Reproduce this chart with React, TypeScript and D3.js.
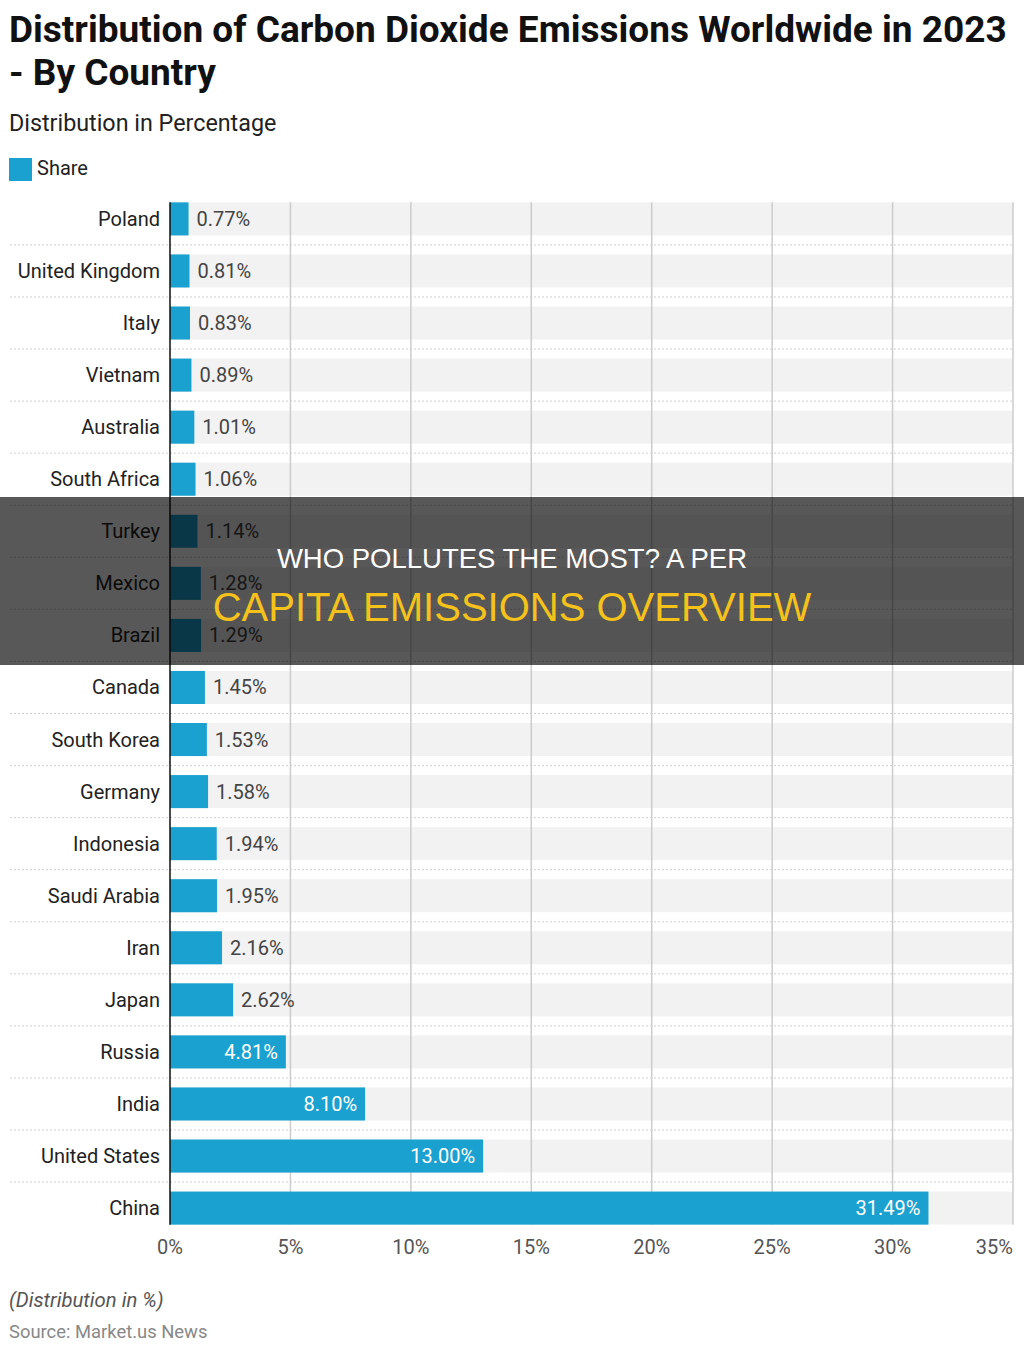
import React, { useEffect, useRef } from 'react';
import * as d3 from 'd3';

const countries = ['Poland', 'United Kingdom', 'Italy', 'Vietnam', 'Australia', 'South Africa', 'Turkey', 'Mexico', 'Brazil', 'Canada', 'South Korea', 'Germany', 'Indonesia', 'Saudi Arabia', 'Iran', 'Japan', 'Russia', 'India', 'United States', 'China'];
const shares = [0.77, 0.81, 0.83, 0.89, 1.01, 1.06, 1.14, 1.28, 1.29, 1.45, 1.53, 1.58, 1.94, 1.95, 2.16, 2.62, 4.81, 8.1, 13.0, 31.49];
const ticks = [0, 5, 10, 15, 20, 25, 30, 35];

const W = 1024;
const H = 1353;
const BLUE = '#1ba1cf';

const App = () => {
  const ref = useRef<SVGSVGElement>(null);

  useEffect(() => {
    document.body.style.margin = '0';
    const svg = d3.select(ref.current);
    svg.selectAll('*').remove();
    const font = 'Roboto, "Noto Sans", sans-serif';

    const x = d3.scaleLinear().domain([0, 35]).range([170, 1013]);
    const y = d3.scaleBand().domain(countries).range([193, 1234]).paddingInner(0.365).paddingOuter(0.18);

    // titles
    svg.append('text').attr('x', 9).attr('y', 42).attr('font-size', 37).attr('font-weight', 700).attr('fill', '#111')
      .attr('font-family', font).text('Distribution of Carbon Dioxide Emissions Worldwide in 2023');
    svg.append('text').attr('x', 9).attr('y', 85).attr('font-size', 37).attr('font-weight', 700).attr('fill', '#111')
      .attr('font-family', font).text('- By Country');
    svg.append('text').attr('x', 9).attr('y', 131).attr('font-size', 23.3).attr('fill', '#222')
      .attr('font-family', font).text('Distribution in Percentage');

    // legend
    svg.append('rect').attr('x', 9).attr('y', 158).attr('width', 23).attr('height', 23).attr('fill', BLUE);
    svg.append('text').attr('x', 37).attr('y', 175).attr('font-size', 20).attr('fill', '#222')
      .attr('font-family', font).text('Share');

    const g = svg.append('g');

    // background tracks
    g.selectAll('rect.track').data(countries).join('rect').attr('class', 'track')
      .attr('x', x(0)).attr('y', d => y(d)!).attr('width', x(35) - x(0)).attr('height', y.bandwidth())
      .attr('fill', '#f2f2f2');

    // dotted separators
    const step = y.step();
    g.selectAll('line.sep').data(countries.slice(0, -1)).join('line').attr('class', 'sep')
      .attr('x1', 10).attr('x2', x(35))
      .attr('y1', d => y(d)! + y.bandwidth() + (step - y.bandwidth()) / 2)
      .attr('y2', d => y(d)! + y.bandwidth() + (step - y.bandwidth()) / 2)
      .attr('stroke', '#cfcfcf').attr('stroke-width', 1).attr('stroke-dasharray', '2,2');

    // vertical grid
    const gridTop = y(countries[0])!;
    const gridBottom = y(countries[countries.length - 1])! + y.bandwidth();
    g.selectAll('line.grid').data(ticks.slice(1)).join('line').attr('class', 'grid')
      .attr('x1', d => x(d)).attr('x2', d => x(d)).attr('y1', gridTop).attr('y2', gridBottom)
      .attr('stroke', '#cccccc').attr('stroke-width', 1.5);

    // bars
    g.selectAll('rect.bar').data(shares).join('rect').attr('class', 'bar')
      .attr('x', x(0)).attr('y', (d, i) => y(countries[i])!)
      .attr('width', d => x(d) - x(0)).attr('height', y.bandwidth()).attr('fill', BLUE);

    // zero axis
    g.append('line').attr('x1', x(0)).attr('x2', x(0)).attr('y1', gridTop).attr('y2', gridBottom)
      .attr('stroke', '#111').attr('stroke-width', 1.5);

    // country labels
    g.selectAll('text.cat').data(countries).join('text').attr('class', 'cat')
      .attr('x', 160).attr('y', d => y(d)! + y.bandwidth() / 2).attr('dy', '0.35em')
      .attr('text-anchor', 'end').attr('font-size', 20).attr('fill', '#222').attr('font-family', font)
      .text(d => d);

    // value labels
    g.selectAll('text.val').data(shares).join('text').attr('class', 'val')
      .attr('x', d => (d > 4 ? x(d) - 8 : x(d) + 8))
      .attr('y', (d, i) => y(countries[i])! + y.bandwidth() / 2).attr('dy', '0.35em')
      .attr('text-anchor', d => (d > 4 ? 'end' : 'start'))
      .attr('font-size', 20).attr('fill', d => (d > 4 ? '#ffffff' : '#444'))
      .attr('font-family', font).text(d => d.toFixed(2) + '%');

    // x tick labels
    g.selectAll('text.tick').data(ticks).join('text').attr('class', 'tick')
      .attr('x', d => x(d)).attr('y', 1254)
      .attr('text-anchor', (d, i) => (i === ticks.length - 1 ? 'end' : 'middle'))
      .attr('font-size', 20).attr('fill', '#555').attr('font-family', font).text(d => d + '%');

    // footer
    svg.append('text').attr('x', 9).attr('y', 1307).attr('font-size', 20.3).attr('font-style', 'italic')
      .attr('fill', '#555').attr('font-family', font).text('(Distribution in %)');
    svg.append('text').attr('x', 9).attr('y', 1338).attr('font-size', 18.4).attr('fill', '#888')
      .attr('font-family', font).text('Source: Market.us News');

    // overlay banner
    svg.append('rect').attr('x', 0).attr('y', 497).attr('width', W).attr('height', 168)
      .attr('fill', '#000').attr('fill-opacity', 0.655);
    svg.append('text').attr('x', W / 2).attr('y', 568).attr('text-anchor', 'middle').attr('font-size', 27.5)
      .attr('fill', '#ffffff').attr('font-family', '"Liberation Sans", Arial, sans-serif')
      .text('WHO POLLUTES THE MOST? A PER');
    svg.append('text').attr('x', W / 2).attr('y', 621).attr('text-anchor', 'middle').attr('font-size', 40)
      .attr('fill', '#f5c21b').attr('font-family', '"Liberation Sans", Arial, sans-serif')
      .text('CAPITA EMISSIONS OVERVIEW');
  }, []);

  return <svg ref={ref} width={W} height={H} style={{ display: 'block', background: '#fff' }} />;
};

export default App;
